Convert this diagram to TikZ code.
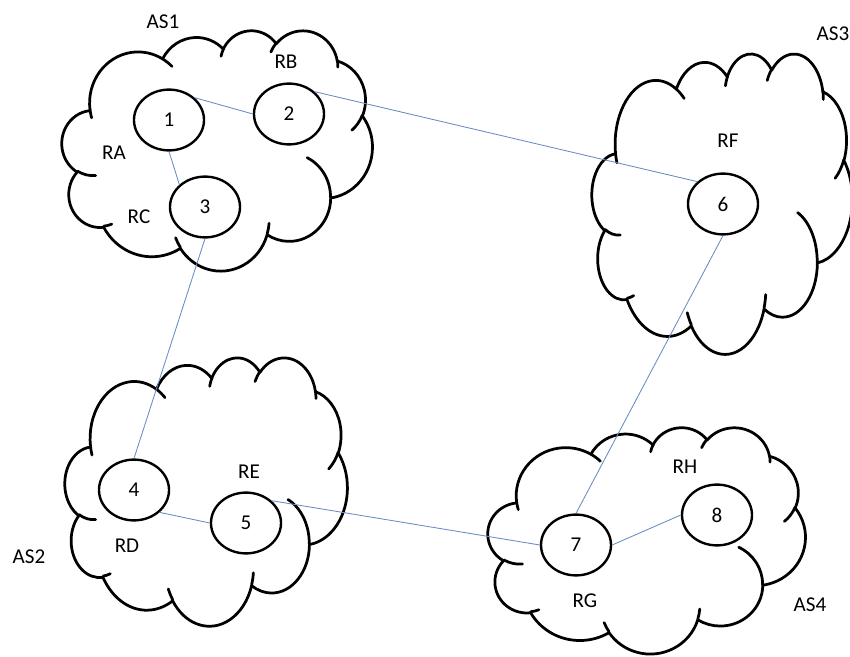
\documentclass[tikz,border=0pt]{standalone}
\usepackage{fontspec}
\setmainfont{Carlito}
\usepackage{tikz}
\usetikzlibrary{shapes.geometric}

\definecolor{linkblue}{RGB}{104, 140, 192}

\tikzset{
  cloud line/.style={line width=1.95pt, line join=round, line cap=round},
  router/.style={draw, ellipse, line width=1.7pt, fill=white, inner sep=0pt,
    minimum width=1.75cm, minimum height=1.52cm, font=\fontsize{15}{18}\selectfont},
  tag/.style={inner sep=1pt, font=\fontsize{15}{18}\selectfont},
  link/.style={draw=linkblue, line width=0.6pt}
}

% one puff of a cloud: x radius, y radius, start angle, sweep (angles seen on the ellipse)
\newcommand{\puff}[4]{arc[start angle={atan2(#1*sin(#3),#2*cos(#3))},
  delta angle={mod(atan2(#1*sin(#3+#4),#2*cos(#3+#4))-atan2(#1*sin(#3),#2*cos(#3))+720,360)},
  x radius=#1pt, y radius=#2pt]}

% cloud in the box left, top, width, height (path drawn on a 432 x 432 grid)
\newcommand{\ascloud}[4]{%
  \begin{scope}[shift={(#1,#2)}, x=1pt, y=1pt, xscale={#3*0.0016466}, yscale={-#4*0.0016466}]
    \filldraw[cloud line, fill=white] (39.00,143.70)
      \puff{67.53}{91.90}{-190.4875}{123.7805}
      \puff{53.33}{72.67}{-144.1024}{89.9452}
      \puff{43.65}{59.45}{-145.8079}{99.7230}
      \puff{48.57}{65.95}{-130.9861}{117.2417}
      \puff{53.33}{72.73}{-78.7089}{109.0269}
      \puff{67.75}{92.20}{-46.2673}{130.2690}
      \puff{57.85}{78.67}{0.6250}{114.0333}
      \puff{67.52}{92.15}{22.4516}{115.1726}
      \puff{77.20}{105.43}{66.2426}{75.7110}
      \puff{43.60}{59.18}{-274.9421}{146.7356}
      \puff{43.45}{59.45}{-246.8285}{152.5189} -- cycle;
    % inner folds
    \draw[cloud line]
      (46.93,261.77) \puff{43.45}{59.45}{86.7420}{26.4295}
      (69.28,348.99) \puff{43.60}{59.18}{73.6105}{11.4475}
      (164.78,390.90) \puff{67.52}{92.15}{137.6242}{14.0811}
      (288.27,347.51) \puff{67.52}{92.15}{6.4533}{15.9984}
      (341.29,229.54) \puff{57.85}{78.67}{-70.2924}{70.9174}
      (417.98,153.54) \puff{53.33}{72.73}{30.3180}{27.7515}
      (383.24,54.26) \puff{48.57}{65.95}{-13.7443}{14.8589}
      (290.78,39.52) \puff{48.57}{65.95}{-149.1815}{18.1954}
      (221.41,47.20) \puff{43.65}{59.45}{-163.4943}{17.6864}
      (140.00,51.92) \puff{67.53}{91.90}{-66.7070}{12.3194}
      (41.27,157.89) \puff{67.53}{91.90}{157.6544}{11.8582};
  \end{scope}}

\begin{document}
\begin{tikzpicture}[x=0.025cm, y=-0.025cm]
  \path[fill=white, use as bounding box] (0,0) rectangle (850,657);

  % the four systems
  \ascloud{62}{30}{310}{240}
  \ascloud{65}{357}{282}{268}
  \ascloud{592}{53}{260}{300}
  \ascloud{488}{427}{317}{226}

  % routers
  \node[router] (r1) at (169,120) {1};
  \node[router] (r2) at (289,114) {2};
  \node[router] (r3) at (205,207) {3};
  \node[router] (r4) at (134,490) {4};
  \node[router] (r5) at (246,523) {5};
  \node[router] (r6) at (723,204) {6};
  \node[router] (r7) at (576,545) {7};
  \node[router] (r8) at (717,515) {8};

  % names
  \node[tag] (as1) at (163,22) {AS1};
  \node[tag] (as2) at (29,557) {AS2};
  \node[tag, anchor=west] (as3) at (815,34) {AS3};
  \node[tag] (as4) at (810,605) {AS4};
  \node[tag] (ra) at (114,153) {RA};
  \node[tag] (rb) at (286,62) {RB};
  \node[tag] (rc) at (139,217) {RC};
  \node[tag] (rd) at (127,546) {RD};
  \node[tag] (re) at (249,472) {RE};
  \node[tag] (rf) at (728,141) {RF};
  \node[tag] (rg) at (585,601) {RG};
  \node[tag] (rh) at (685,467) {RH};

  % links
  \draw[link] (r1.north east) -- (r2.west);
  \draw[link] (r1.south) -- (r3.north west);
  \draw[link] (r2.north east) -- (r6.north west);
  \draw[link] (r3.south) -- (r4.north);
  \draw[link] (r4.south east) -- (r5.west);
  \draw[link] (r5.north east) -- (r7.west);
  \draw[link] (r6.south) -- (r7.north);
  \draw[link] (r7.east) -- (r8.west);
\end{tikzpicture}
\end{document}
